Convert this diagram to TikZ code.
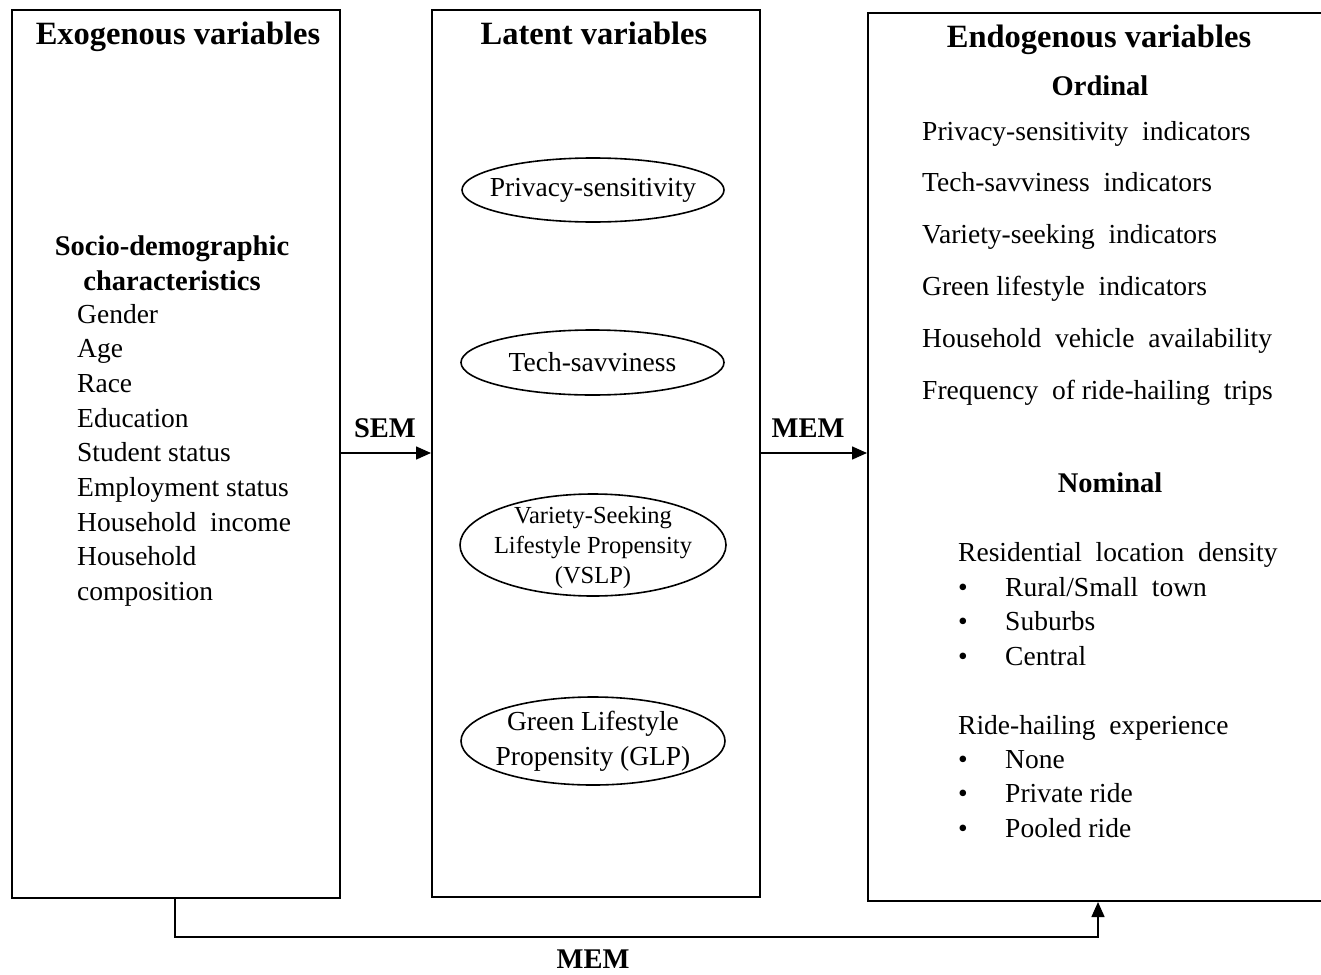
\documentclass[tikz,border=0pt]{standalone}
\usepackage{fontspec}
\setmainfont{Liberation Serif}
\usetikzlibrary{shapes.geometric,arrows.meta}
\begin{document}
\begin{tikzpicture}[x=1pt,y=-1pt,
  panel/.style={draw,line width=2pt,inner sep=0pt},
  latent/.style={draw,ellipse,line width=1.6pt,inner sep=0pt},
  ltext/.style={align=center,inner sep=0pt,font=\fontsize{27.5}{33}\selectfont},
  head/.style={font=\fontsize{32.5}{38}\selectfont\bfseries,anchor=base},
  sub/.style={font=\fontsize{28.5}{34}\selectfont\bfseries,anchor=base},
  item/.style={font=\fontsize{27.5}{33}\selectfont,anchor=base west,inner sep=0pt},
  conn/.style={line width=1.5pt,-{Triangle[length=15pt,width=13pt]}},
  lbl/.style={font=\fontsize{28.5}{34}\selectfont\bfseries,anchor=base,inner sep=0pt}]
\useasboundingbox (0,0) rectangle (1321,974);
\clip (0,0) rectangle (1321,974);
% panels
\node[panel,minimum width=328pt,minimum height=888pt] (exo) at (176,454) {};
\node[panel,minimum width=328pt,minimum height=887pt] (lat) at (596,453.5) {};
\node[panel,minimum width=480pt,minimum height=888pt,anchor=north west] (endo) at (867,12) {};
% headings
\node[head] (hexo) at (178,45) {Exogenous variables};
\node[head] (hlat) at (594,45) {Latent variables};
\node[head] (hendo) at (1099,48) {Endogenous variables};
% left content
\node[sub] (sd1) at (172,255) {Socio-demographic};
\node[sub] (sd2) at (172,290) {characteristics};
\foreach \t [count=\i from 0] in {Gender,Age,Race,Education,Student status,Employment status,Household\ \ income,Household,composition}
  \node[item] (ex\i) at (77,323+34.7*\i) {\t};
% latent ellipses
\node[latent,minimum width=262pt,minimum height=64pt] (ps) at (593,190) {};
\node[ltext] (pst) at (ps.center) {Privacy-sensitivity};
\node[latent,minimum width=263pt,minimum height=65pt] (ts) at (592.5,362.5) {};
\node[ltext] (tst) at (ts.center) {Tech-savviness};
\node[latent,minimum width=266pt,minimum height=102pt] (vslp) at (593,545) {};
\node[ltext,font=\fontsize{24.5}{30}\selectfont] (vslpt) at (593,548) {Variety-Seeking\\Lifestyle Propensity\\(VSLP)};
\node[latent,minimum width=264pt,minimum height=88pt] (glp) at (593,741) {};
\node[ltext,font=\fontsize{27.5}{35}\selectfont] (glpt) at (glp.center) {Green Lifestyle\\Propensity (GLP)};
% right content
\node[sub] (ord) at (1100,95) {Ordinal};
\foreach \t [count=\i from 0] in {Privacy-sensitivity\ \ indicators,Tech-savviness\ \ indicators,Variety-seeking\ \ indicators,Green lifestyle\ \ indicators,Household\ \ vehicle\ \ availability,Frequency\ \ of ride-hailing\ \ trips}
  \node[item] (en\i) at (922,140+51.9*\i) {\t};
\node[sub] (nom) at (1110,492) {Nominal};
\node[item] (res) at (958,561) {Residential\ \ location\ \ density};
\foreach \t [count=\i from 0] in {Rural/Small\ \ town,Suburbs,Central}{
  \node[item] (rb\i) at (958,596+34.6*\i) {\textbullet};
  \node[item] (rt\i) at (1005,596+34.6*\i) {\t};}
\node[item] (rhe) at (958,734) {Ride-hailing\ \ experience};
\foreach \t [count=\i from 0] in {None,Private ride,Pooled ride}{
  \node[item] (hb\i) at (958,768+34.6*\i) {\textbullet};
  \node[item] (ht\i) at (1005,768+34.6*\i) {\t};}
% connectors
\draw[conn] (exo.east |- 0,453) -- (lat.west |- 0,453);
\draw[conn] (lat.east |- 0,453) -- (endo.west |- 0,453);
\coordinate (b1) at (175,937);
\coordinate (b2) at (1098,937);
\draw[conn] (exo.south -| b1) -- (b1) -- (b2) -- (endo.south -| b2);
\node[lbl] (sem) at (385,437) {SEM};
\node[lbl] (mem1) at (808,437) {MEM};
\node[lbl] (mem2) at (593,968) {MEM};
\end{tikzpicture}
\end{document}
